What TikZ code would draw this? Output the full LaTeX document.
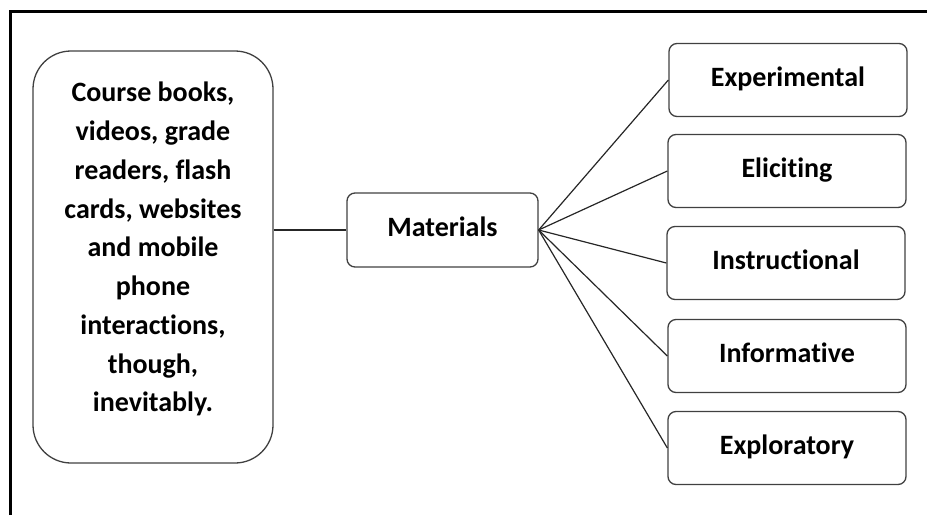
\documentclass[tikz,border=0pt]{standalone}
\usepackage{fontspec}
\setmainfont{Carlito}[Ligatures={NoCommon,NoRequired,NoContextual}]
\usetikzlibrary{positioning}

\begin{document}
\begin{tikzpicture}[x=1pt,y=-1pt]

\tikzset{box/.style = {draw=black!75, line width=1.3pt, rounded corners=8pt, minimum width=238pt, minimum height=73pt, text height=20pt, text depth=8pt, font=\fontsize{28}{34}\selectfont\bfseries}}
\tikzset{link/.style = {draw=black!85, line width=1.2pt}}
\useasboundingbox (0,0) rectangle (927,515);
%frame
\draw [line width=3pt] (10,515) -- (10,11) -- (927,11);
%boxes
\node[box, rounded corners=38pt, minimum width=240pt, minimum height=412pt, align=center, text height=, text depth=20pt, font=\fontsize{28}{38.75}\selectfont\bfseries] (res) at (153,257) {Course books,\\ videos, grade\\ readers, flash\\ cards, websites\\ and mobile\\ phone\\ interactions,\\ though,\\ inevitably.};
\node[box, minimum width=191pt, minimum height=74pt] (mat) at (442.5,230) {Materials};
\node[box] (exper) at (788,80) {Experimental};
\node[box] (elic) at (787,171) {Eliciting};
\node[box] (instr) at (786,263) {Instructional};
\node[box] (info) at (787,356) {Informative};
\node[box] (explo) at (787,448) {Exploratory};
%edges
\draw [link] (res.east |- mat.west) -- (mat.west);
\draw [link] (mat.east) -- (exper.west);
\draw [link] (mat.east) -- (elic.west);
\draw [link] (mat.east) -- (instr.west);
\draw [link] (mat.east) -- (info.west);
\draw [link] (mat.east) -- (explo.west);

\end{tikzpicture}
\end{document}
